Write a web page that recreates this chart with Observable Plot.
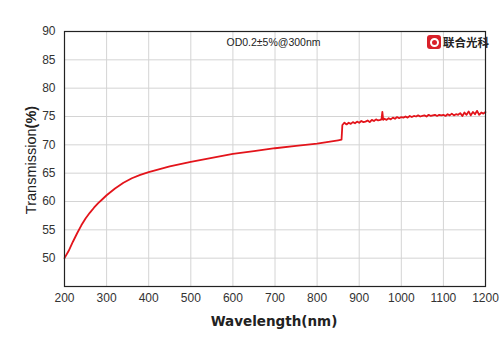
<!DOCTYPE html>
<html><head><meta charset="utf-8">
<script src="https://cdn.jsdelivr.net/npm/d3@7"></script>
<script src="https://cdn.jsdelivr.net/npm/@observablehq/plot@0.6"></script>
<style>
body{margin:0;background:#fff;font-family:"Liberation Sans",Arial,sans-serif;}
#wrap{position:relative;width:500px;height:353px;}
#logo{position:absolute;left:427px;top:35px;display:flex;align-items:center;}
#logo .ic{width:14px;height:14px;background:#d9202a;border-radius:3px;position:relative;}
#logo .ic:after{content:"";position:absolute;left:3px;top:3px;width:5px;height:5px;border:2px solid #fff;border-radius:50%;}
#logo .tx{margin-left:2px;font-family:"Noto Sans CJK SC";font-weight:bold;font-size:11.5px;line-height:13px;color:#222;}
</style></head>
<body><div id="wrap"></div>
<script>
const wavelength = [200,210,220,230,240,250,260,270,280,290,300,320,340,360,380,400,450,500,550,600,650,700,750,800,850,858,
 860,865,870,875,880,885,890,895,900,905,910,915,920,925,930,935,940,945,950,953,955,957,960,965,970,975,980,985,990,995,
 1000,1005,1010,1015,1020,1025,1030,1035,1040,1045,1050,1055,1060,1065,1070,1075,1080,1085,1090,1095,
 1100,1105,1110,1115,1120,1125,1130,1135,1140,1145,1150,1155,1160,1165,1170,1175,1180,1185,1190,1195,1200];
const transmission = [50.0,51.3,52.9,54.4,55.8,57.0,58.0,58.9,59.7,60.4,61.1,62.3,63.3,64.1,64.7,65.2,66.2,67.0,67.7,68.4,68.9,69.4,69.8,70.2,70.8,70.9,
 73.5,73.9,73.6,73.9,73.7,74.0,73.8,74.1,73.9,74.2,74.0,74.1,74.3,74.0,74.4,74.2,74.5,74.3,74.4,74.5,75.8,74.4,74.6,74.4,74.7,74.5,74.8,74.6,74.9,74.7,
 74.9,74.8,75.0,74.8,75.1,74.9,75.1,75.0,75.2,75.0,75.1,75.2,75.0,75.3,75.1,75.2,75.3,75.1,75.3,75.2,
 75.3,75.1,75.4,75.2,75.5,75.2,75.4,75.3,75.6,75.1,75.7,75.3,75.9,75.2,75.8,75.4,76.0,75.3,75.7,75.5,75.8];
const xTicks = [200,300,400,500,600,700,800,900,1000,1100,1200];
const yTicks = [50,55,60,65,70,75,80,85,90];
const annotation = "OD0.2±5%@300nm";
const brand = "联合光科";
const xLabel = "Wavelength(nm)";
const yLabelMain = "Transmission";
const yLabelUnit = "(%)";

const data = wavelength.map((w,i)=>({w, t: transmission[i]}));
const chart = Plot.plot({
  width: 500, height: 353,
  marginLeft: 64, marginRight: 15, marginTop: 31, marginBottom: 67,
  style: {fontFamily: '"Liberation Sans", Arial, sans-serif', fontSize: "12px", color: "#333", background: "#fff"},
  x: {domain: [200,1200], ticks: xTicks, tickFormat: d => String(d), tickSize: 0, tickPadding: 7, label: null},
  y: {domain: [45,90], ticks: yTicks, tickFormat: d => String(d), tickSize: 0, tickPadding: 9, label: null},
  marks: [
    Plot.gridX(xTicks, {stroke: "#d4d4d4", strokeOpacity: 1}),
    Plot.gridY(yTicks, {stroke: "#d4d4d4", strokeOpacity: 1}),
    Plot.line(data, {x: "w", y: "t", stroke: "#e3141b", strokeWidth: 1.8}),
    Plot.frame({stroke: "#222", strokeWidth: 1.2}),
    Plot.text([annotation], {frameAnchor: "top-left", dx: 162, dy: 7, textAnchor: "start", fontSize: 10.5, fill: "#222"})
  ]
});
const svg = d3.select(chart);
svg.append("text").attr("x", 274).attr("y", 326).attr("text-anchor","middle")
  .attr("font-size", 13.5).attr("font-weight","bold").attr("fill","#222")
  .attr("font-family",'"DejaVu Sans", sans-serif').text(xLabel);
const yl = svg.append("text").attr("transform","translate(36,160) rotate(-90)").attr("text-anchor","middle")
  .attr("font-size", 14.5).attr("fill","#222");
yl.append("tspan").text(yLabelMain);
yl.append("tspan").attr("font-weight","bold").text(yLabelUnit);
document.getElementById("wrap").appendChild(chart);
const logo = document.createElement("div");
logo.id = "logo";
logo.innerHTML = '<div class="ic"></div><div class="tx"></div>';
logo.querySelector(".tx").textContent = brand;
document.getElementById("wrap").appendChild(logo);
</script></body></html>
